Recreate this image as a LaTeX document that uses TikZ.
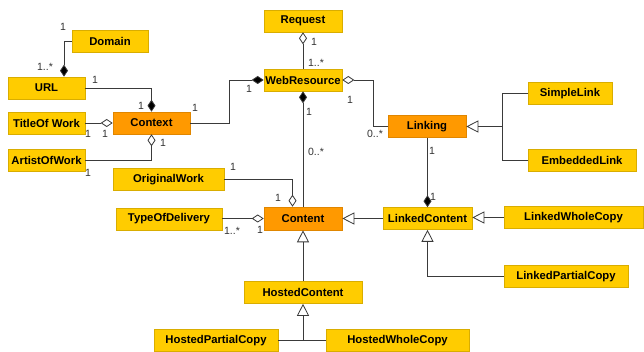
\documentclass[tikz,border=0pt]{standalone}
\usepackage{fontspec}
\setmainfont{Liberation Sans}
\usetikzlibrary{arrows.meta,calc}
\definecolor{ylw}{HTML}{FFCC00}
\definecolor{ylwb}{HTML}{D9AD00}
\definecolor{org}{HTML}{FF9900}
\definecolor{orgb}{HTML}{E08600}
\definecolor{ln}{HTML}{3A3A3A}
\definecolor{lbl}{HTML}{333333}
\tikzset{
  cls/.style={rectangle, draw=ylwb, fill=ylw, line width=0.6pt, inner sep=0pt,
    minimum height=22pt, font=\fontsize{11.3}{13}\selectfont\bfseries, text=black},
  clso/.style={cls, draw=orgb, fill=org},
  conn/.style={draw=ln, line width=0.8pt},
  compo/.style={conn, {Diamond[length=12pt,width=8pt,fill=black]}-},
  aggr/.style={conn, {Diamond[length=12pt,width=8pt,open,fill=white]}-},
  gen/.style={conn, -{Triangle[length=12pt,width=12pt,open,fill=white]}},
  mult/.style={font=\fontsize{10.5}{12}\selectfont, text=lbl, inner sep=0pt}
}
\begin{document}
\begin{tikzpicture}[x=1pt,y=-1pt]
\useasboundingbox[fill=white] (0,0) rectangle (644,352);
% classes
\node[cls, minimum width=76pt] (domain) at (110,41) {Domain};
\node[cls, minimum width=77pt] (url) at (46.5,88) {URL};
\node[cls, minimum width=78pt] (request) at (303,21) {Request};
\node[cls, minimum width=78pt] (webres) at (303,80) {WebResource};
\node[clso, minimum width=77pt] (context) at (151.5,123) {Context};
\node[cls, minimum width=77pt] (title) at (46.5,123) {TitleOf Work};
\node[cls, minimum width=77pt] (artist) at (46.5,160) {ArtistOfWork};
\node[clso, minimum width=78pt] (linking) at (427,126.5) {Linking};
\node[cls, minimum width=84pt] (simple) at (570,93.5) {SimpleLink};
\node[cls, minimum width=108pt] (embedded) at (582,160) {EmbeddedLink};
\node[cls, minimum width=111pt] (original) at (168.5,179.5) {OriginalWork};
\node[cls, minimum width=106pt] (typedel) at (169,219) {TypeOfDelivery};
\node[clso, minimum width=78pt, minimum height=23pt] (content) at (303,218.5) {Content};
\node[cls, minimum width=89pt] (lcontent) at (427.5,218.5) {LinkedContent};
\node[cls, minimum width=139pt] (lwc) at (573.5,217.5) {LinkedWholeCopy};
\node[cls, minimum width=124pt] (lpc) at (566,276.5) {LinkedPartialCopy};
\node[cls, minimum width=118pt] (hosted) at (303,292.5) {HostedContent};
\node[cls, minimum width=124pt] (hpc) at (216,340.5) {HostedPartialCopy};
\node[cls, minimum width=143pt] (hwc) at (397.5,340.5) {HostedWholeCopy};
% coordinates
\coordinate (ljoin) at ($(simple.west |- linking.east)+(-25,0)$);
\coordinate (hjoin) at (hosted.south |- hpc.east);
% connectors
\draw[compo] ([xshift=17.5pt]url.north) |- (domain.west);
\draw[compo] (context.north) |- (url.east);
\draw[compo] (webres.west) -- ++(-34,0) |- (context.east);
\draw[aggr] (context.west) -- (title.east);
\draw[aggr] (context.south) |- (artist.east);
\draw[aggr] (request.south) -- (webres.north);
\draw[aggr] (webres.east) -- ++(31,0) |- (linking.west);
\draw[compo] (webres.south) -- (content.north);
\draw[aggr] ([xshift=-10.5pt]content.north) |- (original.east);
\draw[aggr] (content.west) -- (content.west -| typedel.east);
\draw[gen] (lcontent.west) -- (lcontent.west -| content.east);
\draw[compo] (lcontent.north) -- (lcontent.north |- linking.south);
\draw[gen] (ljoin) -- (linking.east);
\draw[conn] (simple.west) -| (ljoin) |- (embedded.west);
\draw[gen] (lwc.west) -- (lwc.west -| lcontent.east);
\draw[gen] (lpc.west) -| (lcontent.south);
\draw[gen] (hosted.north) -- (hosted.north |- content.south);
\draw[gen] (hjoin) -- (hosted.south);
\draw[conn] (hpc.east) -- (hwc.west);
% multiplicities
\node[mult] (m1) at (63,27) {1};
\node[mult] (m2) at (45,67) {1..*};
\node[mult] (m3) at (95,80) {1};
\node[mult] (m4) at (141,106) {1};
\node[mult] (m5) at (195,108) {1};
\node[mult] (m6) at (249,89) {1};
\node[mult] (m7) at (88,134) {1};
\node[mult] (m8) at (105,134) {1};
\node[mult] (m9) at (163,143) {1};
\node[mult] (m10) at (88,173) {1};
\node[mult] (m11) at (314,42) {1};
\node[mult] (m12) at (316,63) {1..*};
\node[mult] (m13) at (350,100) {1};
\node[mult] (m14) at (375,134) {0..*};
\node[mult] (m15) at (309,112) {1};
\node[mult] (m16) at (316,152) {0..*};
\node[mult] (m17) at (233,167) {1};
\node[mult] (m18) at (278,198) {1};
\node[mult] (m19) at (232,231) {1..*};
\node[mult] (m20) at (260,230) {1};
\node[mult] (m21) at (432,151) {1};
\node[mult] (m22) at (433,197) {1};
\end{tikzpicture}
\end{document}
